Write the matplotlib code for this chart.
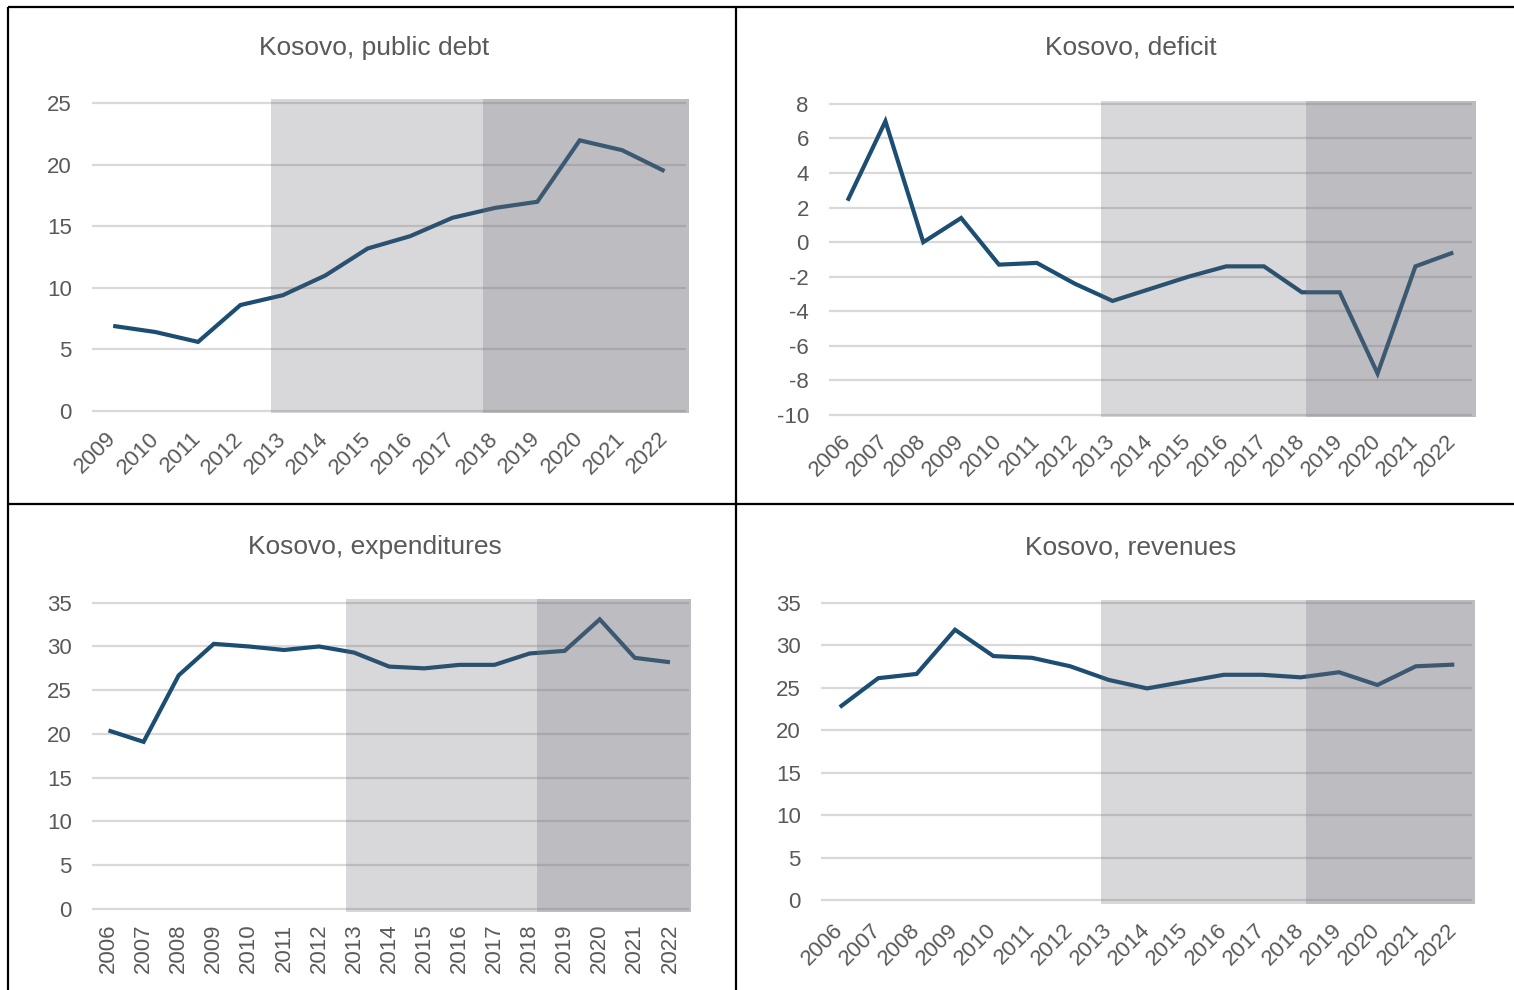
# ============================================================
# kosovo_fiscal.py — Kosovo fiscal indicators, 2006-2022
#
# Four small line panels (public debt, deficit, expenditures,
# revenues) with the two policy periods shaded in grey.
# ============================================================

import numpy as np
import matplotlib.pyplot as plt
from matplotlib.lines import Line2D

plt.rcParams['font.family'] = ['Liberation Sans', 'DejaVu Sans']

# ------------------------------------------------------------
# DATA (% of GDP)
# ------------------------------------------------------------

years_debt = list(range(2009, 2023))
public_debt = [6.9, 6.4, 5.6, 8.6, 9.4, 11.0, 13.2, 14.2, 15.7, 16.5,
               17.0, 22.0, 21.2, 19.5]

years = list(range(2006, 2023))
deficit = [2.4, 7.0, 0.0, 1.4, -1.3, -1.2, -2.4, -3.4, -2.7, -2.0,
           -1.4, -1.4, -2.9, -2.9, -7.6, -1.4, -0.6]
expenditures = [20.4, 19.1, 26.7, 30.3, 30.0, 29.6, 30.0, 29.3, 27.7, 27.5,
                27.9, 27.9, 29.2, 29.5, 33.1, 28.7, 28.2]
revenues = [22.7, 26.1, 26.6, 31.8, 28.7, 28.5, 27.5, 25.9, 24.9, 25.7,
            26.5, 26.5, 26.2, 26.8, 25.3, 27.5, 27.7]

titles = ['Kosovo, public debt', 'Kosovo, deficit',
          'Kosovo, expenditures', 'Kosovo, revenues']

yticks_debt = [0, 5, 10, 15, 20, 25]
yticks_deficit = [-10, -8, -6, -4, -2, 0, 2, 4, 6, 8]
yticks_exp = [0, 5, 10, 15, 20, 25, 30, 35]
yticks_rev = [0, 5, 10, 15, 20, 25, 30, 35]

# shaded periods: (light start, dark start, end)
periods_debt = (2012.73, 2017.71, 2022.57)
periods_deficit = (2012.69, 2018.10, 2022.60)
periods_exp = (2012.77, 2018.20, 2022.60)
periods_rev = (2012.79, 2018.13, 2022.54)

# ------------------------------------------------------------
# STYLE
# ------------------------------------------------------------

W, H = 1514, 990
LINE_COLOR = '#1b4e72'
GRID_COLOR = '#d9d9d9'
TEXT_COLOR = '#595959'
LIGHT_SHADE = (0.37, 0.37, 0.41)
DARK_SHADE = (0.41, 0.41, 0.45)


def px_rect(left, top, right, bottom):
    """Axes rectangle from pixel edges (origin top-left)."""
    return [left / W, 1 - bottom / H, (right - left) / W, (bottom - top) / H]


def draw_panel(fig, rect, xs, ys, yticks, xlim, ylim, grid_end, periods,
               rotation, xpad):
    ax = fig.add_axes(px_rect(*rect))
    ax.set_xlim(*xlim)
    ax.set_ylim(*ylim)

    # horizontal gridlines
    ax.hlines(yticks, xlim[0], grid_end, color=GRID_COLOR, lw=1.6, zorder=1)

    ax.plot(xs, ys, color=LINE_COLOR, lw=3.0, zorder=2,
            solid_joinstyle='miter', solid_capstyle='butt')

    # period shading sits on top of the line, semi-transparent
    light_start, dark_start, end = periods
    ax.axvspan(light_start, dark_start, color=LIGHT_SHADE, alpha=0.24,
               lw=0, zorder=3)
    ax.axvspan(dark_start, end, color=DARK_SHADE, alpha=0.44,
               lw=0, zorder=3)

    for s in ax.spines.values():
        s.set_visible(False)

    ax.set_yticks(yticks)
    ax.set_yticklabels([str(t) for t in yticks])
    ax.tick_params(axis='y', length=0, pad=14.5, labelsize=16,
                   labelcolor=TEXT_COLOR)

    ax.set_xticks(xs)
    ax.tick_params(axis='x', length=0, pad=xpad, labelsize=16,
                   labelcolor=TEXT_COLOR)
    if rotation == 90:
        ax.set_xticklabels([str(x) for x in xs], rotation=90,
                           ha='center', va='top')
    else:
        ax.set_xticklabels([str(x) for x in xs], rotation=45,
                           ha='right', va='center', rotation_mode='anchor')
    ax.set_facecolor('none')
    return ax


fig = plt.figure(figsize=(W / 100, H / 100), dpi=100)

# top-left: public debt
draw_panel(fig, (92, 99.3, 688.7, 413.3), years_debt, public_debt,
           yticks_debt, (2008.5, 2022.57), (-0.21, 25.34), 2022.5,
           periods_debt, 45, 16)

# top-right: deficit
draw_panel(fig, (829, 101, 1476, 416.7), years, deficit,
           yticks_deficit, (2005.51, 2022.6), (-10.1, 8.17), 2022.5,
           periods_deficit, 45, 15.5)

# bottom-left: expenditures
draw_panel(fig, (92, 598.7, 691, 911.7), years, expenditures,
           yticks_exp, (2005.53, 2022.6), (-0.31, 35.46), 2022.54,
           periods_exp, 90, 8.5)

# bottom-right: revenues
draw_panel(fig, (821, 600, 1475, 904), years, revenues,
           yticks_rev, (2005.51, 2022.54), (-0.47, 35.3), 2022.46,
           periods_rev, 45, 16.5)

# panel titles
title_pos = [(374, 48), (1131, 48), (375, 547), (1131, 547)]
for (tx, ty), title in zip(title_pos, titles):
    fig.text(tx / W, 1 - ty / H, title, ha='center', va='center',
             fontsize=19, color=TEXT_COLOR)

# table borders between the panels
border = dict(color='black', lw=1.6, solid_capstyle='butt')
fig.add_artist(Line2D([8 / W, 1], [1 - 7 / H, 1 - 7 / H], **border))
fig.add_artist(Line2D([8 / W, 8 / W], [0, 1 - 7 / H], **border))
fig.add_artist(Line2D([736 / W, 736 / W], [0, 1 - 7 / H], **border))
fig.add_artist(Line2D([8 / W, 1], [1 - 504 / H, 1 - 504 / H], **border))

fig.savefig('out.png', dpi=100)
